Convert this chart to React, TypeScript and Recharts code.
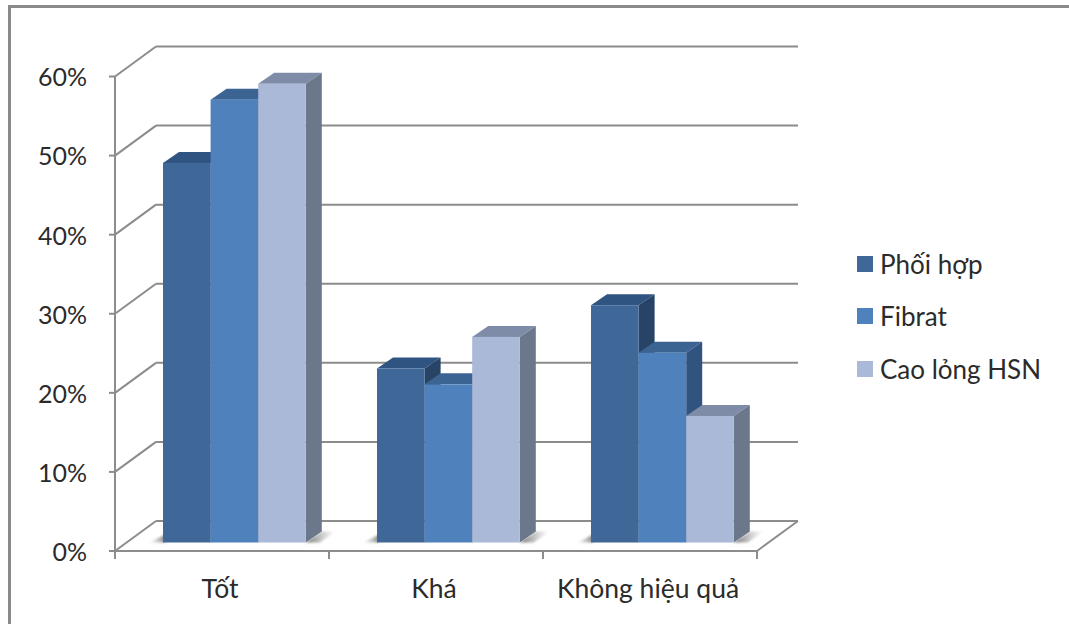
import { BarChart, Bar, XAxis, YAxis, CartesianGrid, Legend } from "recharts";

const categories = ["Tốt", "Khá", "Không hiệu quả"];
const phoiHop = [48, 22, 30];
const fibrat = [56, 20, 24];
const caoLong = [58, 26, 16];
const yTicks = [0, 10, 20, 30, 40, 50, 60];

const seriesNames = ["Phối hợp", "Fibrat", "Cao lỏng HSN"];

const data = categories.map((name, i) => ({
  name,
  [seriesNames[0]]: phoiHop[i],
  [seriesNames[1]]: fibrat[i],
  [seriesNames[2]]: caoLong[i],
}));

const FONT = "Lato, 'Noto Sans', sans-serif";
const TEXT = "#2b2b2b";
const LINE = "#8c8c8c";

const WIDTH = 1069;
const HEIGHT = 624;
const PLOT = { left: 115, right: 757, top: 76.5, bottom: 551 };
const BAND = (PLOT.right - PLOT.left) / categories.length;
const LEGEND_WIDTH = 210;

// depth of the box the plot sits in
const WALL_DX = 41;
const WALL_DY = -30;

// bars stand on the floor, pushed in from its front edge
const BAR_SHIFT_X = 12;
const BAR_SHIFT_Y = -8.5;
const BAR_DX = 16;
const BAR_DY = -11;

const tones = [
  { front: "#3f6797", top: "#2f5482", side: "#274466" },
  { front: "#4f81bd", top: "#3c6493", side: "#315380" },
  { front: "#aab9d7", top: "#7f8ca8", side: "#6b788c" },
];

function Box3D(props: any) {
  const { x, y, width, height, tone, shadow } = props;
  const l = x + BAR_SHIFT_X;
  const t = y + BAR_SHIFT_Y;
  const r = l + width;
  const b = t + height;
  return (
    <g>
      {shadow === "left" && (
        <polygon
          points={`${l + 2},${b} ${l + 2},${b - 8} ${l - 10},${b - 2} ${l - 15},${b}`}
          fill="url(#shadowLeft)"
          filter="url(#shadowBlur)"
        />
      )}
      {shadow === "right" && (
        <polygon
          points={`${r},${b} ${r + BAR_DX},${b + BAR_DY} ${r + 30},${b + BAR_DY} ${r + 14},${b}`}
          fill="url(#shadowRight)"
          filter="url(#shadowBlur)"
        />
      )}
      <polygon
        points={`${l},${t} ${l + BAR_DX},${t + BAR_DY} ${r + BAR_DX},${t + BAR_DY} ${r},${t}`}
        fill={tone.top}
      />
      <polygon
        points={`${r},${t} ${r + BAR_DX},${t + BAR_DY} ${r + BAR_DX},${b + BAR_DY} ${r},${b}`}
        fill={tone.side}
      />
      <rect x={l} y={t} width={width} height={height} fill={tone.front} />
    </g>
  );
}

// each grid line runs along the back wall, with a diagonal down the side wall
function wallLine(props: any) {
  const { x1, x2, y1, key } = props;
  const isFloor = y1 >= PLOT.bottom - 1;
  return (
    <g key={key}>
      <line
        x1={x1}
        y1={y1}
        x2={x1 + WALL_DX}
        y2={y1 + WALL_DY}
        stroke={LINE}
        strokeWidth={2}
      />
      <line
        x1={x1 + WALL_DX}
        y1={y1 + WALL_DY}
        x2={x2 + WALL_DX}
        y2={y1 + WALL_DY}
        stroke={LINE}
        strokeWidth={2}
      />
      {isFloor && (
        <line
          x1={x2}
          y1={y1}
          x2={x2 + WALL_DX}
          y2={y1 + WALL_DY}
          stroke={LINE}
          strokeWidth={2}
        />
      )}
    </g>
  );
}

function CategoryTick(props: any) {
  const { x, y, payload, index } = props;
  const left = x - BAND / 2;
  const right = x + BAND / 2;
  return (
    <g>
      <line x1={left} y1={y - 9} x2={left} y2={y} stroke={LINE} strokeWidth={2} />
      {index === categories.length - 1 && (
        <line x1={right} y1={y - 9} x2={right} y2={y} stroke={LINE} strokeWidth={2} />
      )}
      <text
        x={x - 2}
        y={y + 39}
        textAnchor="middle"
        fontFamily={FONT}
        fontSize={26.5}
        fill={TEXT}
      >
        {payload.value}
      </text>
    </g>
  );
}

function LegendList({ payload }: any) {
  return (
    <div style={{ fontFamily: FONT, fontSize: 26, color: TEXT }}>
      {(payload ?? []).map((item: any) => (
        <div
          key={item.value}
          style={{ display: "flex", alignItems: "center", height: 52.5 }}
        >
          <span
            style={{
              width: 16,
              height: 16,
              marginRight: 7,
              background: item.color,
              flex: "none",
            }}
          />
          <span style={{ whiteSpace: "nowrap" }}>{item.value}</span>
        </div>
      ))}
    </div>
  );
}

export default function App() {
  return (
    <div
      style={{
        position: "absolute",
        left: 0,
        top: 0,
        width: WIDTH,
        height: HEIGHT,
        background: "#fff",
        overflow: "hidden",
      }}
    >
      <div
        style={{
          position: "absolute",
          left: 8,
          top: 5,
          right: 0,
          bottom: 0,
          borderTop: "3px solid #8a8a8a",
          borderLeft: "3px solid #8a8a8a",
        }}
      />
      <BarChart
        width={WIDTH}
        height={HEIGHT}
        data={data}
        margin={{
          top: PLOT.top,
          // the legend box adds its own width to the right-hand offset
          right: WIDTH - PLOT.right - LEGEND_WIDTH,
          bottom: 0,
          left: 0,
        }}
        barGap={0}
        barCategoryGap={35}
        style={{ position: "absolute", left: 0, top: 0 }}
      >
        <defs>
          <linearGradient id="shadowRight" x1="0" y1="0" x2="1" y2="0">
            <stop offset="0" stopColor="#555" stopOpacity={0.85} />
            <stop offset="1" stopColor="#999" stopOpacity={0} />
          </linearGradient>
          <linearGradient id="shadowLeft" x1="1" y1="0" x2="0" y2="0">
            <stop offset="0" stopColor="#555" stopOpacity={0.7} />
            <stop offset="1" stopColor="#999" stopOpacity={0} />
          </linearGradient>
          <filter id="shadowBlur" x="-30%" y="-30%" width="160%" height="160%">
            <feGaussianBlur stdDeviation={1} />
          </filter>
        </defs>
        <CartesianGrid vertical={false} horizontal={wallLine} />
        <XAxis
          dataKey="name"
          height={HEIGHT - PLOT.bottom}
          interval={0}
          tickLine={false}
          axisLine={{ stroke: LINE, strokeWidth: 2 }}
          tick={CategoryTick}
        />
        <YAxis
          width={PLOT.left}
          domain={[0, 60]}
          ticks={yTicks}
          tickFormatter={(v: number) => `${v}%`}
          tickSize={6}
          tickMargin={22}
          tickLine={{ stroke: LINE, strokeWidth: 2 }}
          axisLine={{ stroke: LINE, strokeWidth: 2 }}
          tick={{ fontFamily: FONT, fontSize: 25, fill: TEXT, dy: 1 }}
        />
        <Legend
          layout="vertical"
          align="right"
          verticalAlign="top"
          itemSorter={null}
          wrapperStyle={{ left: 857, top: 237.5, width: LEGEND_WIDTH }}
          content={LegendList}
        />
        <Bar
          dataKey={seriesNames[0]}
          fill={tones[0].front}
          barSize={47.6}
          isAnimationActive={false}
          shape={(p: any) => <Box3D {...p} tone={tones[0]} shadow="left" />}
        />
        <Bar
          dataKey={seriesNames[1]}
          fill={tones[1].front}
          barSize={47.6}
          isAnimationActive={false}
          shape={(p: any) => <Box3D {...p} tone={tones[1]} />}
        />
        <Bar
          dataKey={seriesNames[2]}
          fill={tones[2].front}
          barSize={47.6}
          isAnimationActive={false}
          shape={(p: any) => <Box3D {...p} tone={tones[2]} shadow="right" />}
        />
      </BarChart>
    </div>
  );
}
